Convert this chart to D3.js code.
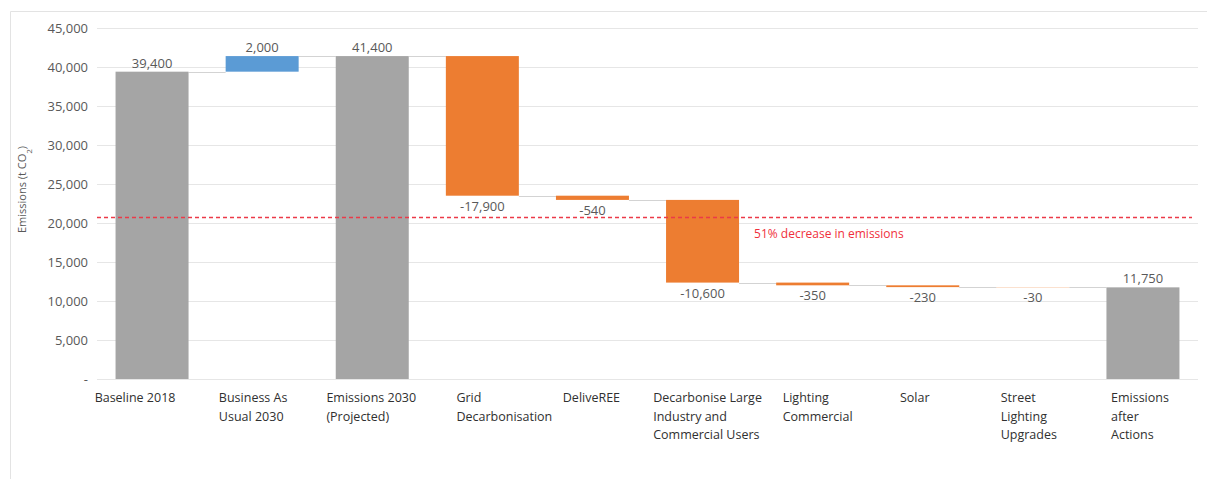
<!DOCTYPE html>
<html>
<head>
<meta charset="utf-8">
<script src="https://cdn.jsdelivr.net/npm/d3@7"></script>
<style>
  html, body { margin: 0; padding: 0; background: #fff; }
  svg { display: block; font-family: "Open Sans", sans-serif; }
</style>
</head>
<body>
<svg id="chart" width="1207" height="479"></svg>
<script>
// ---- data ----
const categories = [
  "Baseline 2018",
  "Business As Usual 2030",
  "Emissions 2030 (Projected)",
  "Grid Decarbonisation",
  "DeliveREE",
  "Decarbonise Large Industry and Commercial Users",
  "Lighting Commercial",
  "Solar",
  "Street Lighting Upgrades",
  "Emissions after Actions"
];
const categoryLines = [
  ["Baseline 2018"],
  ["Business As", "Usual 2030"],
  ["Emissions 2030", "(Projected)"],
  ["Grid", "Decarbonisation"],
  ["DeliveREE"],
  ["Decarbonise Large", "Industry and", "Commercial Users"],
  ["Lighting", "Commercial"],
  ["Solar"],
  ["Street", "Lighting", "Upgrades"],
  ["Emissions", "after", "Actions"]
];
const values = [39400, 2000, 41400, -17900, -540, -10600, -350, -230, -30, 11750];
const barTypes = ["total", "increase", "total", "decrease", "decrease", "decrease", "decrease", "decrease", "decrease", "total"];
const yTicks = [0, 5000, 10000, 15000, 20000, 25000, 30000, 35000, 40000, 45000];
const targetValue = 20700;
const targetLabel = "51% decrease in emissions";
const yTitle = "Emissions (t CO";

// ---- layout (label nudges to mimic the original's wrapped label boxes) ----
const labelNudge = [-17, -9, -1, 22, -1, 5, 5, -8, -4, -3];

// ---- build waterfall ----
let running = 0;
const bars = values.map((v, i) => {
  let start, end;
  if (barTypes[i] === "total") { start = 0; end = v; running = v; }
  else { start = running; end = running + v; running = end; }
  return { i, cat: categories[i], lines: categoryLines[i], v, type: barTypes[i], start, end };
});

const colors = { total: "#a5a5a5", increase: "#5b9bd5", decrease: "#ed7d31" };
const fmt = v => d3.format(",")(v).replace("\u2212", "-");

const svg = d3.select("#chart");
const margin = { left: 97, right: 9, top: 28, bottom: 100 };
const W = 1207, H = 479;
const plotBottom = 379;

const x = d3.scaleBand().domain(categories).range([margin.left, W - margin.right]).paddingInner(0.337).paddingOuter(0.1685);
const y = d3.scaleLinear().domain([0, 45000]).range([plotBottom, margin.top]);

// chart frame
svg.append("path")
  .attr("d", `M10.5,${H} L10.5,11.5 L${W},11.5`)
  .attr("fill", "none").attr("stroke", "#e3e3e3").attr("stroke-width", 1);

// gridlines
svg.append("g").selectAll("line").data(yTicks).join("line")
  .attr("x1", margin.left).attr("x2", W - margin.right)
  .attr("y1", d => Math.round(y(d)) + 0.5).attr("y2", d => Math.round(y(d)) + 0.5)
  .attr("stroke", "#e6e6e6").attr("stroke-width", 1);

// y axis labels
const yAxis = d3.axisLeft(y).tickValues(yTicks).tickSize(0).tickPadding(9)
  .tickFormat(d => d === 0 ? "-" : fmt(d));
const ya = svg.append("g").attr("transform", `translate(${margin.left},0)`).call(yAxis);
ya.select(".domain").remove();
ya.selectAll("text").attr("fill", "#595959").style("font-size", "13px").style("font-family", "Open Sans");

// y title
const yt = svg.append("text")
  .attr("transform", `translate(26,${(margin.top + plotBottom) / 2 - 14}) rotate(-90)`)
  .attr("text-anchor", "middle").attr("fill", "#595959").style("font-size", "11px");
yt.append("tspan").text(yTitle);
yt.append("tspan").text("2").attr("baseline-shift", "sub").style("font-size", "8px");
yt.append("tspan").text(")");

// connectors
svg.append("g").selectAll("line").data(bars.slice(0, -1)).join("line")
  .attr("x1", d => x(d.cat) + x.bandwidth())
  .attr("x2", d => x(categories[d.i + 1]))
  .attr("y1", d => Math.round(y(d.end)) + 0.5)
  .attr("y2", d => Math.round(y(d.end)) + 0.5)
  .attr("stroke", "#d3d3d3").attr("stroke-width", 1);

// bars
svg.append("g").selectAll("rect").data(bars).join("rect")
  .attr("x", d => x(d.cat))
  .attr("width", x.bandwidth())
  .attr("y", d => y(Math.max(d.start, d.end)))
  .attr("height", d => Math.abs(y(d.start) - y(d.end)))
  .attr("fill", d => colors[d.type]);

// data labels
svg.append("g").selectAll("text").data(bars).join("text")
  .attr("x", d => x(d.cat) + x.bandwidth() / 2)
  .attr("y", d => d.type === "decrease" ? y(Math.min(d.start, d.end)) + 15 : y(Math.max(d.start, d.end)) - 4)
  .attr("text-anchor", "middle").attr("fill", "#595959").style("font-size", "13px")
  .text(d => fmt(d.v));

// target line
svg.append("line")
  .attr("x1", margin.left).attr("x2", W - 15)
  .attr("y1", y(targetValue)).attr("y2", y(targetValue))
  .attr("stroke", "#ec3a48").attr("stroke-width", 1.5).attr("stroke-dasharray", "4,3");
svg.append("text")
  .attr("x", x(categories[5]) + x.bandwidth() + 15)
  .attr("y", y(targetValue) + 20)
  .attr("fill", "#f0303c").style("font-size", "12px")
  .text(targetLabel);

// category labels
const xg = svg.append("g");
bars.forEach(d => {
  const t = xg.append("text").attr("fill", "#303030").style("font-size", "12.5px");
  d.lines.forEach((ln, k) => {
    t.append("tspan").attr("dy", k === 0 ? 0 : 18.5).text(ln);
  });
  const tsp = t.selectAll("tspan").nodes();
  const wMax = d3.max(tsp, n => n.getComputedTextLength());
  const cx = x(d.cat) + x.bandwidth() / 2;
  const left = cx - wMax / 2 + labelNudge[d.i];
  t.attr("y", 402);
  t.selectAll("tspan").attr("x", left);
});
</script>
</body>
</html>
